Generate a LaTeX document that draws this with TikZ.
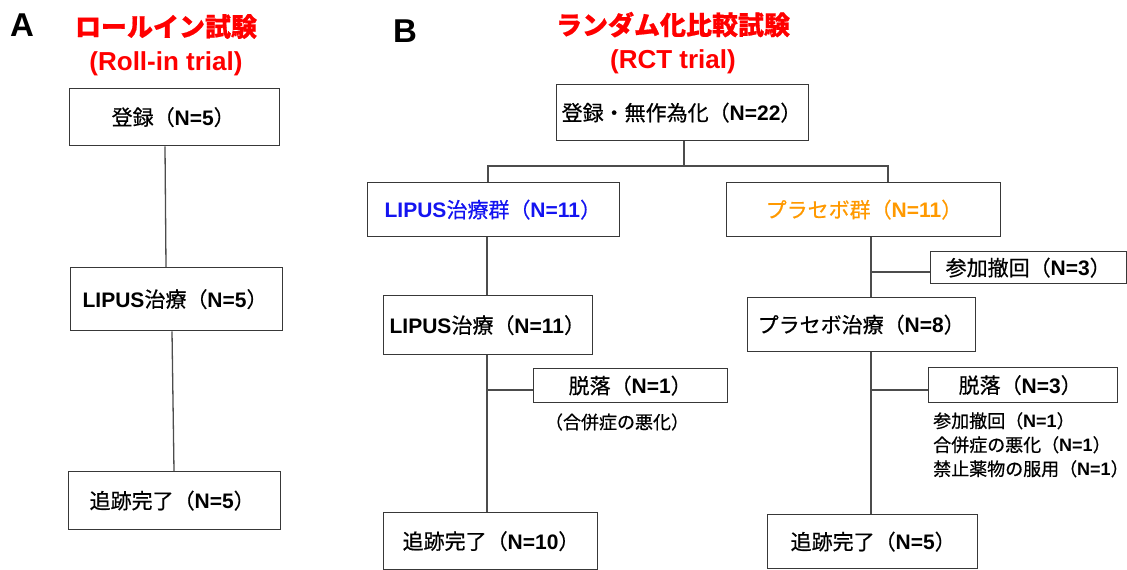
\documentclass[tikz,border=0pt]{standalone}
\usepackage{fontspec}
\setmainfont{Liberation Sans}
\newfontfamily\jp[FakeBold=0.6]{Noto Sans CJK JP}
\newcommand\J[1]{{\jp #1}}
\newcommand\B[1]{\textbf{#1}}
\definecolor{linec}{gray}{0.3}
\definecolor{boxc}{gray}{0.22}
\definecolor{tred}{RGB}{255,0,0}
\definecolor{tblue}{RGB}{20,20,240}
\definecolor{torange}{RGB}{255,153,0}
\tikzset{
  box/.style={draw=boxc, line width=1.3pt, anchor=north west, align=left,
    inner ysep=0pt, font=\fontsize{21}{25}\selectfont},
  conn/.style={draw=linec, line width=1.3pt},
  ttl/.style={align=center, text=tred, font=\fontsize{26}{34}\selectfont\bfseries},
  lbl/.style={font=\fontsize{33}{36}\selectfont\bfseries},
  note/.style={align=left, inner sep=0pt, font=\fontsize{18}{24}\selectfont}
}
\begin{document}
\begin{tikzpicture}[x=1pt,y=-1pt]
\useasboundingbox (0,0) rectangle (1127,570);

% panel labels and titles
\node[lbl] (lA) at (22,25) {A};
\node[lbl] (lB) at (405,31) {B};
\node[ttl] (tA) at (166,45) {\J{\bfseries ロールイン試験}\\(Roll-in trial)};
\node[ttl] (tB) at (673,43) {\J{\bfseries ランダム化比較試験}\\(RCT trial)};

% panel A
\node[box, minimum width=210pt, minimum height=57pt, text width=126pt, inner xsep=42pt] (A1) at (69,88) {\J{登録（}\B{N=5}\J{）}};
\node[box, minimum width=212pt, minimum height=63pt, text width=188pt, inner xsep=12pt] (A2) at (70,267) {\B{LIPUS}\J{治療（}\B{N=5}\J{）}};
\node[box, minimum width=212pt, minimum height=58pt, text width=170pt, inner xsep=21pt] (A3) at (68,471) {\J{追跡完了（}\B{N=5}\J{）}};

\draw[conn] (165,0 |- A1.south) -- (166,0 |- A2.north);
\draw[conn] (172,0 |- A2.south) -- (174,0 |- A3.north);

% panel B
\node[box, minimum width=252pt, minimum height=56pt, text width=242pt, inner xsep=5pt] (B0) at (556,84) {\J{登録・無作為化（}\B{N=22}\J{）}};
\node[box, minimum width=252pt, minimum height=54pt, text width=218pt, inner xsep=17pt, text=tblue] (B1) at (367,182) {\B{LIPUS}\J{治療群（}\B{N=11}\J{）}};
\node[box, minimum width=209pt, minimum height=59pt, text width=197pt, inner xsep=6pt] (B2) at (383,295) {\B{LIPUS}\J{治療（}\B{N=11}\J{）}};
\node[box, minimum width=194pt, minimum height=34pt, text width=124pt, inner xsep=35pt] (B3) at (533,368) {\J{脱落（}\B{N=1}\J{）}};
\node[note] (B3n) at (617,422) {\J{（合併症の悪化）}};
\node[box, minimum width=214pt, minimum height=57pt, text width=176pt, inner xsep=19pt] (B4) at (383,512) {\J{追跡完了（}\B{N=10}\J{）}};

\node[box, minimum width=274pt, minimum height=54pt, text width=196pt, inner xsep=39pt, text=torange] (C1) at (726,182) {\J{プラセボ群（}\B{N=11}\J{）}};
\node[box, minimum width=196pt, minimum height=32pt, text width=166pt, inner xsep=15pt] (C2) at (930,251) {\J{参加撤回（}\B{N=3}\J{）}};
\node[box, minimum width=228pt, minimum height=54pt, text width=208pt, inner xsep=10pt] (C3) at (747,297) {\J{プラセボ治療（}\B{N=8}\J{）}};
\node[box, minimum width=189pt, minimum height=35pt, text width=129pt, inner xsep=30pt] (C4) at (928,367) {\J{脱落（}\B{N=3}\J{）}};
\node[note, anchor=north west] (C4n) at (933,412) {\J{参加撤回（}\B{N=1}\J{）}\\\J{合併症の悪化（}\B{N=1}\J{）}\\\J{禁止薬物の服用（}\B{N=1}\J{）}};
\node[box, minimum width=210pt, minimum height=54pt, text width=164pt, inner xsep=23pt] (C5) at (767,514) {\J{追跡完了（}\B{N=5}\J{）}};

% tree connectors
\coordinate (jB) at (684,166);
\coordinate (jL) at (488,166);
\coordinate (jR) at (888,166);
\draw[conn] (jB |- B0.south) -- (jB);
\draw[conn] (jL |- B1.north) -- (jL) -- (jR) -- (jR |- C1.north);
\draw[conn] (487,0 |- B1.south) -- (487,0 |- B2.north);
\draw[conn] (487,0 |- B2.south) -- (487,0 |- B4.north);
\draw[conn] (487,390) -- (B3.west |- 487,390);
\draw[conn] (871,0 |- C1.south) -- (871,0 |- C3.north);
\draw[conn] (871,272) -- (C2.west |- 871,272);
\draw[conn] (871,0 |- C3.south) -- (871,0 |- C5.north);
\draw[conn] (871,390) -- (C4.west |- 871,390);
\end{tikzpicture}
\end{document}
